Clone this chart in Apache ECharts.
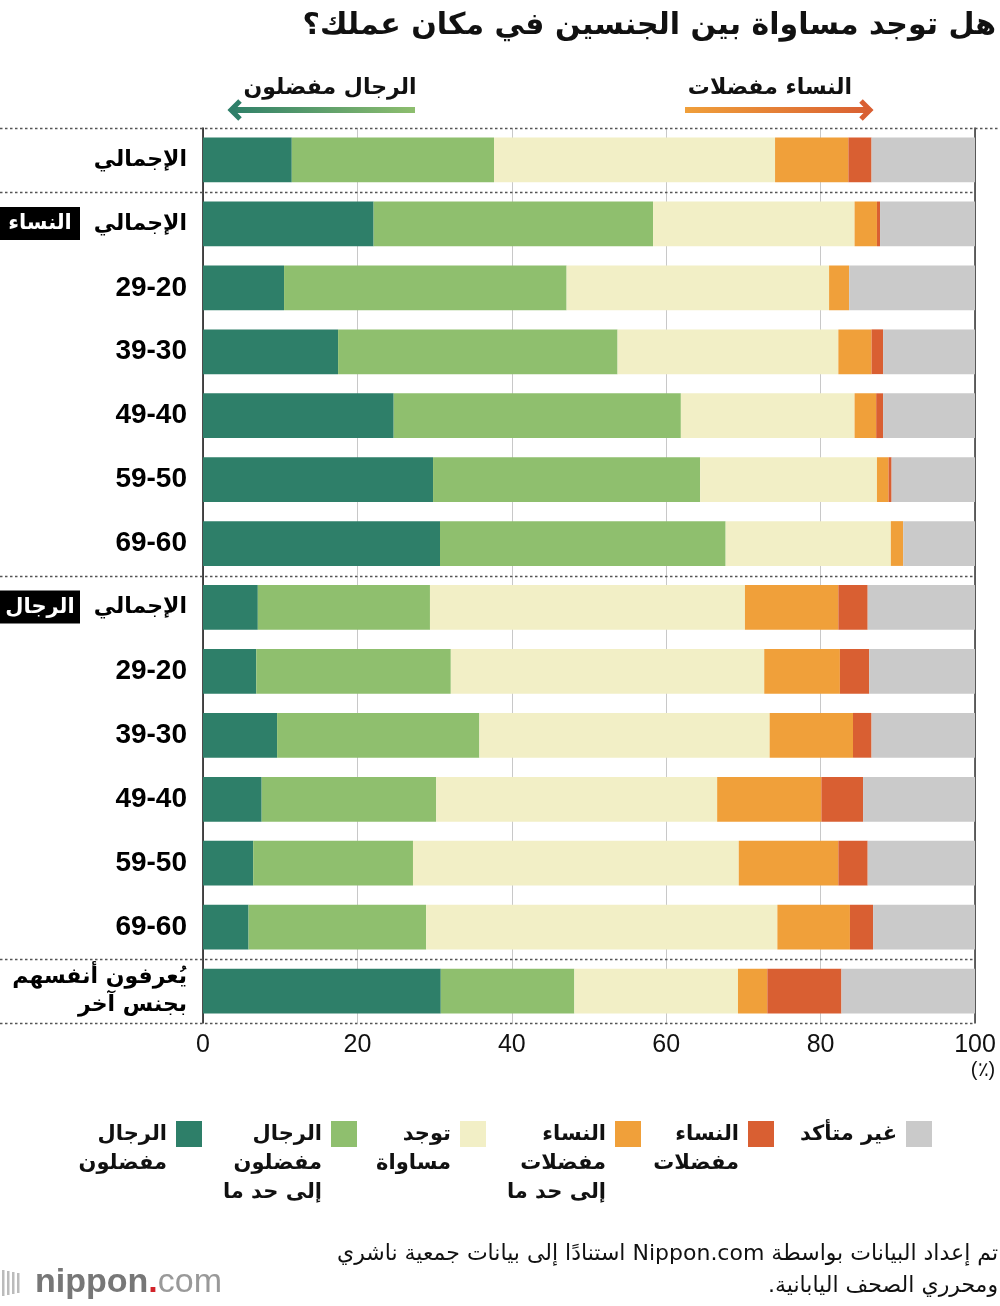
<!DOCTYPE html>
<html>
<head>
<meta charset="utf-8">
<script src="https://cdn.jsdelivr.net/npm/echarts@6/dist/echarts.min.js"></script>
<style>
  html, body { margin: 0; padding: 0; background: #fff; }
  #chart { width: 1000px; height: 1306px; }
</style>
</head>
<body>
<div id="chart"></div>
<script>
// row ids (top to bottom) and their axis labels
var rows = ['all', 'w-all', 'w20', 'w30', 'w40', 'w50', 'w60', 'm-all', 'm20', 'm30', 'm40', 'm50', 'm60', 'other'];
var rowLabels = ['الإجمالي', 'الإجمالي', '29-20', '39-30', '49-40', '59-50', '69-60',
  'الإجمالي', '29-20', '39-30', '49-40', '59-50', '69-60', 'يُعرفون أنفسهم\nبجنس آخر'];
var xTicks = [0, 20, 40, 60, 80, 100];

// share of answers (%)
var menStrong   = [11.5, 22.1, 10.5, 17.5, 24.7, 29.8, 30.7, 7.1, 6.9, 9.6, 7.6, 6.5, 5.9, 30.8];
var menSome     = [26.2, 36.2, 36.6, 36.2, 37.2, 34.6, 37.0, 22.3, 25.2, 26.2, 22.6, 20.7, 23.0, 17.3];
var equal       = [36.4, 26.1, 34.0, 28.6, 22.5, 22.9, 21.4, 40.8, 40.6, 37.6, 36.4, 42.2, 45.5, 21.2];
var womenSome   = [9.5, 2.9, 2.6, 4.3, 2.8, 1.5, 1.6, 12.1, 9.8, 10.8, 13.5, 12.9, 9.4, 3.8];
var womenStrong = [3.0, 0.4, 0, 1.5, 0.9, 0.4, 0, 3.8, 3.8, 2.4, 5.4, 3.8, 3.0, 9.6];
var unsure      = [13.4, 12.3, 16.3, 11.9, 11.9, 10.8, 9.3, 13.9, 13.7, 13.4, 14.5, 13.9, 13.2, 17.3];

var seriesNames = ['الرجال\nمفضلون', 'الرجال\nمفضلون\nإلى حد ما', 'توجد\nمساواة',
  'النساء\nمفضلات\nإلى حد ما', 'النساء\nمفضلات', 'غير متأكد'];
var seriesData = [menStrong, menSome, equal, womenSome, womenStrong, unsure];
var colors = ['#2e7f69', '#8fbf6e', '#f2efc6', '#f0a03a', '#d95f32', '#cacaca'];

var AR = "'DejaVu Sans', sans-serif";
var NUM = "'Liberation Sans Narrow', 'Liberation Sans', sans-serif";

var myChart = echarts.init(document.getElementById('chart'));

var option = {
    animation: false,
    grid: { left: 203, right: 25, top: 128, bottom: 283 },
    xAxis: {
        type: 'value', min: 0, max: 100, interval: 20,
        axisLine: { show: false },
        axisTick: { show: false },
        axisLabel: { margin: 10, fontSize: 25, color: '#111', fontFamily: NUM },
        splitLine: { lineStyle: { color: '#c8c8c8', width: 1 } }
    },
    yAxis: [
        {
            type: 'category', data: rows, inverse: true,
            axisLine: { lineStyle: { color: '#111', width: 1.5 } },
            axisTick: { show: false },
            axisLabel: {
                margin: 16, color: '#000', fontWeight: 'bold',
                formatter: function (v, i) {
                    var t = rowLabels[i];
                    if (t.indexOf('\n') >= 0) return '{m|' + t + '}';
                    if (/^[0-9]/.test(t)) return '{n|' + t + '}';
                    return '{a|' + t + '}';
                },
                rich: {
                    a: { fontSize: 22, fontWeight: 'bold', fontFamily: AR },
                    n: { fontSize: 28, fontWeight: 'bold', fontFamily: NUM },
                    m: { fontSize: 22, fontWeight: 'bold', fontFamily: AR, lineHeight: 28, align: 'right' }
                }
            }
        },
        {
            type: 'category', data: rows, inverse: true, position: 'right',
            axisLine: { lineStyle: { color: '#333', width: 1.5 } },
            axisTick: { show: false }, axisLabel: { show: false }
        }
    ],
    series: seriesData.map(function (d, i) {
        return {
            name: seriesNames[i], type: 'bar', stack: 'all',
            barCategoryGap: '30%',
            itemStyle: { color: colors[i] },
            data: d
        };
    })
};
myChart.setOption(option);

// decoration built from the axis positions
var yc = function (i) { return myChart.convertToPixel({ yAxisIndex: 0 }, rows[i]); };
var band = yc(1) - yc(0);
var x0 = myChart.convertToPixel({ xAxisIndex: 0 }, 0);
var x100 = myChart.convertToPixel({ xAxisIndex: 0 }, 100);

var g = [];
// title
g.push({ type: 'text', right: 4, top: 11, style: {
    text: 'هل توجد مساواة بين الجنسين في مكان عملك؟', font: 'bold 30px ' + AR, fill: '#111' } });

// dotted separators
var seps = [[0, 1000], [1, x100], [7, x100], [13, x100], [14, x100]];
seps.forEach(function (s) {
    var y = Math.round(yc(0) + (s[0] - 0.5) * band) + 0.5;
    g.push({ type: 'line', z: 10, shape: { x1: 0, y1: y, x2: s[1], y2: y },
        style: { stroke: '#555', lineWidth: 1.5, lineDash: [2.5, 2.5] } });
});

// badges for women / men groups
[[1, 'النساء'], [7, 'الرجال']].forEach(function (b) {
    var y = yc(b[0]);
    g.push({ type: 'rect', shape: { x: 0, y: y - 17, width: 80, height: 33 }, style: { fill: '#000' } });
    g.push({ type: 'text', x: 40, y: y, style: { text: b[1], font: 'bold 21px ' + AR, fill: '#fff',
        align: 'center', verticalAlign: 'middle' } });
});

// direction arrows
g.push({ type: 'text', x: 330, y: 88, style: { text: 'الرجال مفضلون', font: 'bold 22px ' + AR,
    fill: '#111', align: 'center', verticalAlign: 'middle' } });
g.push({ type: 'line', shape: { x1: 415, y1: 110, x2: 232, y2: 110 }, style: {
    lineWidth: 6, stroke: new echarts.graphic.LinearGradient(0, 0, 1, 0,
        [{ offset: 0, color: colors[0] }, { offset: 1, color: colors[1] }]) } });
g.push({ type: 'polyline', shape: { points: [[240, 101], [231, 110], [240, 119]] },
    style: { stroke: colors[0], lineWidth: 5, fill: null } });
g.push({ type: 'text', x: 770, y: 88, style: { text: 'النساء مفضلات', font: 'bold 22px ' + AR,
    fill: '#111', align: 'center', verticalAlign: 'middle' } });
g.push({ type: 'line', shape: { x1: 685, y1: 110, x2: 868, y2: 110 }, style: {
    lineWidth: 6, stroke: new echarts.graphic.LinearGradient(0, 0, 1, 0,
        [{ offset: 0, color: colors[3] }, { offset: 1, color: colors[4] }]) } });
g.push({ type: 'polyline', shape: { points: [[861, 101], [870, 110], [861, 119]] },
    style: { stroke: colors[4], lineWidth: 5, fill: null } });

// percent unit under the axis
g.push({ type: 'text', x: x100 + 8, y: 1070, style: { text: '(٪)', font: '20px ' + NUM, fill: '#111',
    align: 'center', verticalAlign: 'middle' } });

// legend (icon on the right of its text, RTL order)
var legX = [176, 331, 460, 615, 748, 906];
seriesNames.forEach(function (n, i) {
    g.push({ type: 'rect', shape: { x: legX[i], y: 1121, width: 26, height: 26 }, style: { fill: colors[i] } });
    g.push({ type: 'text', x: legX[i] - 9, y: 1120, style: { text: n, font: 'bold 21px ' + AR,
        fill: '#111', align: 'right', verticalAlign: 'top', lineHeight: 29 } });
});

// source note and logo
g.push({ type: 'text', x: 998, y: 1254, style: {
    text: '\u202Bتم إعداد البيانات بواسطة Nippon.com استنادًا إلى بيانات جمعية ناشري\u202C',
    font: '22px ' + AR, fill: '#111', align: 'right', verticalAlign: 'middle' } });
g.push({ type: 'text', x: 998, y: 1286, style: {
    text: '\u202Bومحرري الصحف اليابانية.\u202C',
    font: '22px ' + AR, fill: '#111', align: 'right', verticalAlign: 'middle' } });
[0, 5, 10, 15].forEach(function (dx, k) {
    g.push({ type: 'rect', shape: { x: 2 + dx, y: 1270 + k * 1, width: 2.5, height: 26 - k * 2 },
        style: { fill: '#bbb' } });
});
g.push({ type: 'text', x: 35, y: 1283, style: {
    text: '{n|nippon}{d|.}{c|com}', verticalAlign: 'middle',
    rich: {
        n: { font: 'bold 34px ' + NUM, fill: '#777' },
        d: { font: 'bold 34px ' + NUM, fill: '#d2232a' },
        c: { font: '34px ' + NUM, fill: '#999' }
    } } });

myChart.setOption({ graphic: g });
</script>
</body>
</html>
